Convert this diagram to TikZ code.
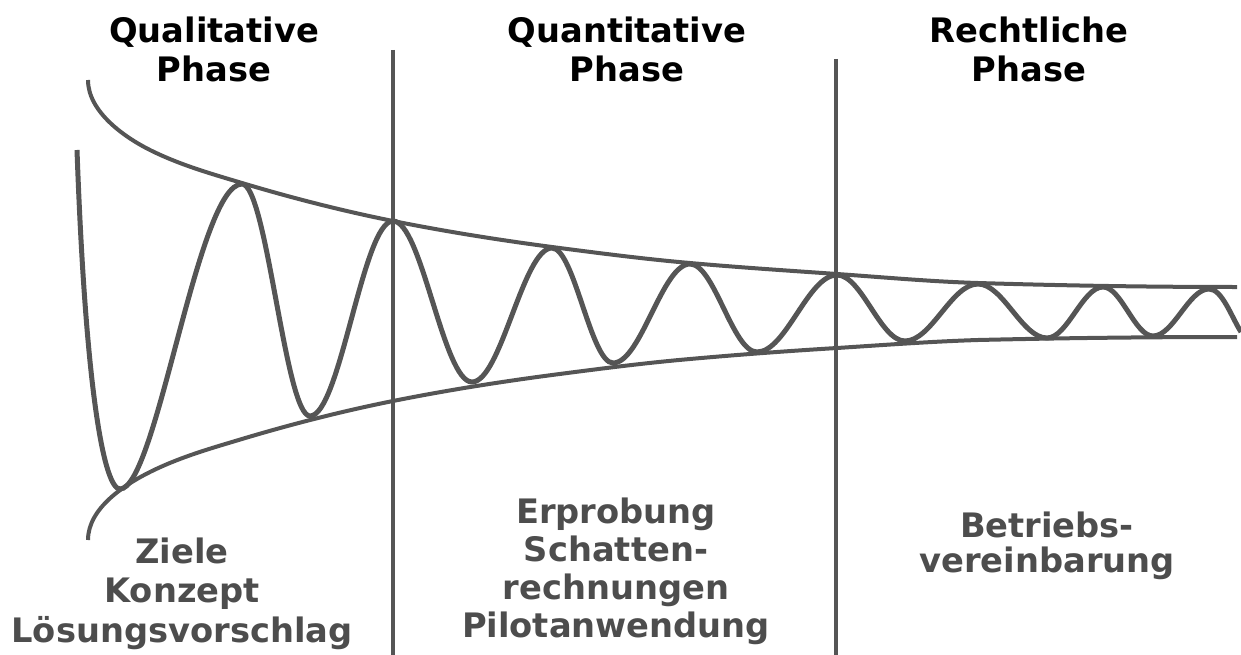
\documentclass[tikz,border=0pt]{standalone}
\usepackage{fontspec}
\setmainfont{DejaVu Sans}
\definecolor{linegray}{HTML}{555555}
\definecolor{textgray}{HTML}{4D4D4D}
\begin{document}
\begin{tikzpicture}[x=1pt,y=-1pt,
  title/.style={font=\fontsize{33.7}{39}\selectfont\bfseries, text=black, align=center, inner sep=0pt, anchor=base},
  label/.style={font=\fontsize{33.7}{39.5}\selectfont\bfseries, text=textgray, align=center, inner sep=0pt, anchor=base},
  divider/.style={draw=linegray, line width=4pt},
  envelope/.style={draw=linegray, line width=4pt},
  wave/.style={draw=linegray, line width=5pt}]
\useasboundingbox (0,0) rectangle (1241,655);

% dividers
\coordinate (d1t) at (393,50);  \coordinate (d1b) at (393,655);
\coordinate (d2t) at (836,59);  \coordinate (d2b) at (836,655);
\draw[divider] (d1t) -- (d1b);
\draw[divider] (d2t) -- (d2b);

% envelopes
\coordinate (u0) at (88,80);   \coordinate (l0) at (88,540);
\coordinate (uE) at (1237,287); \coordinate (lE) at (1237,337);
\draw[envelope] (u0) .. controls (88,112) and (125,137.5) .. (150,150)
  .. controls (180,165) and (212,174) .. (242,183)
  .. controls (292,198) and (343,211) .. (393,221)
  .. controls (446,231.6) and (499,240) .. (552,247)
  .. controls (598,253) and (644,259) .. (690,263)
  .. controls (739,267.4) and (788,270.6) .. (837,274)
  .. controls (884,277.3) and (931,281.6) .. (978,283)
  .. controls (1064,285.6) and (1150,287) .. (uE);
\draw[envelope] (l0) .. controls (88,508) and (125,484.5) .. (150,472)
  .. controls (180,457) and (212,448) .. (242,439)
  .. controls (292,424) and (343,411) .. (393,401)
  .. controls (446,390.4) and (499,382) .. (552,375)
  .. controls (598,369) and (644,363) .. (690,359)
  .. controls (739,354.6) and (788,351) .. (837,348)
  .. controls (884,345) and (931,341.5) .. (978,340)
  .. controls (1064,338) and (1150,337) .. (lE);

% wave extrema
\coordinate (w0) at (77,150);
\coordinate (w1) at (120,489);
\coordinate (w2) at (242,184);
\coordinate (w3) at (310,416);
\coordinate (w4) at (393,221);
\coordinate (w5) at (472,382);
\coordinate (w6) at (552,248);
\coordinate (w7) at (613,363);
\coordinate (w8) at (690,264);
\coordinate (w9) at (757,352);
\coordinate (w10) at (837,275);
\coordinate (w11) at (905,341);
\coordinate (w12) at (978,284);
\coordinate (w13) at (1047,338);
\coordinate (w14) at (1103,287);
\coordinate (w15) at (1153,336);
\coordinate (w16) at (1209,289);
\coordinate (w17) at (1241,332);

\draw[wave] (w0) .. controls +(9,250) and +(-15,0) .. (w1)
  .. controls +(36.6,0) and +(-44.3,0) .. (w2)
  .. controls +(24.7,0) and +(-24.7,0) .. (w3)
  .. controls +(30.1,0) and +(-30.1,0) .. (w4)
  .. controls +(28.7,0) and +(-28.7,0) .. (w5)
  .. controls +(29,0) and +(-29,0) .. (w6)
  .. controls +(22.1,0) and +(-22.1,0) .. (w7)
  .. controls +(28,0) and +(-28,0) .. (w8)
  .. controls +(24.3,0) and +(-24.3,0) .. (w9)
  .. controls +(29,0) and +(-29,0) .. (w10)
  .. controls +(24.7,0) and +(-24.7,0) .. (w11)
  .. controls +(26.5,0) and +(-26.5,0) .. (w12)
  .. controls +(25,0) and +(-25,0) .. (w13)
  .. controls +(20.3,0) and +(-20.3,0) .. (w14)
  .. controls +(18.2,0) and +(-18.2,0) .. (w15)
  .. controls +(20.3,0) and +(-20.3,0) .. (w16)
  .. controls +(13,0) and +(-10,-16) .. (w17);

% titles (anchor = baseline of last line)
\node[title] (t1) at (214,82) {Qualitative\\Phase};
\node[title] (t2) at (627,82) {Quantitative\\Phase};
\node[title] (t3) at (1029,82) {Rechtliche\\Phase};

% bottom labels
\node[label] (b1) at (182,642) {Ziele\\Konzept\\Lösungsvorschlag};
\node[label, font=\fontsize{33.7}{38}\selectfont\bfseries] (b2) at (616,637) {Erprobung\\Schatten-\\rechnungen\\Pilotanwendung};
\node[label, font=\fontsize{33.7}{35}\selectfont\bfseries] (b3) at (1047,572) {Betriebs-\\vereinbarung};
\end{tikzpicture}
\end{document}
